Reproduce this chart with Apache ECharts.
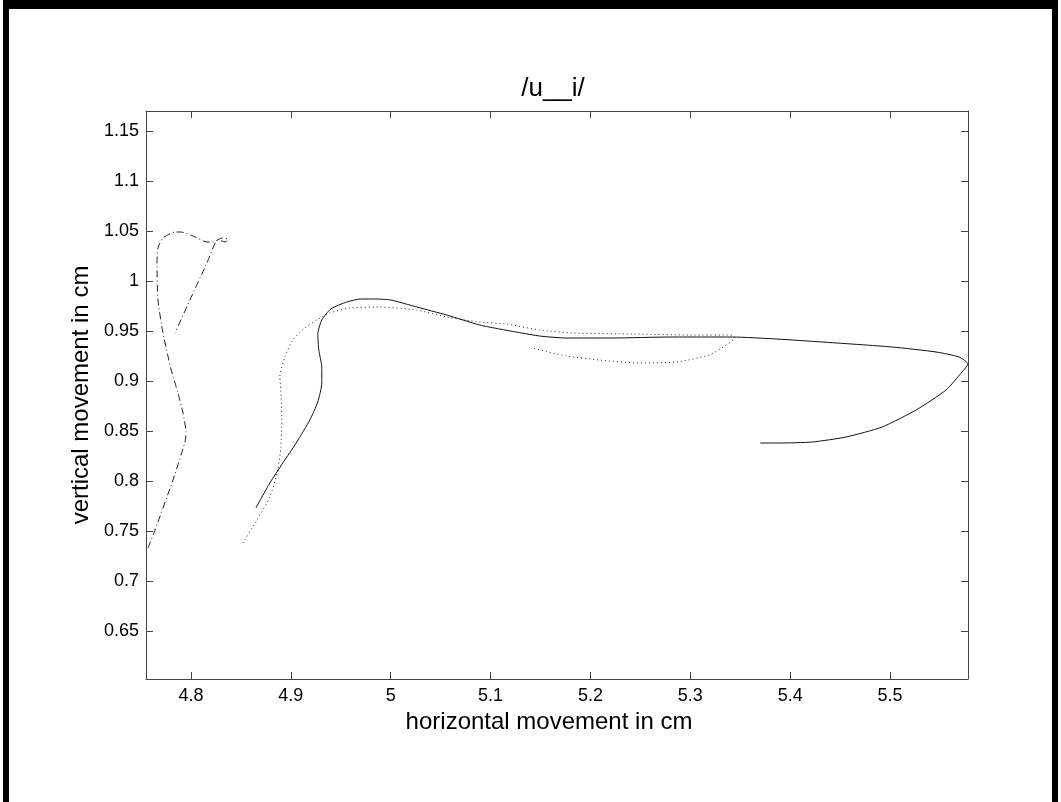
<!DOCTYPE html>
<html>
<head>
<meta charset="utf-8">
<script src="https://cdn.jsdelivr.net/npm/echarts@6/dist/echarts.min.js"></script>
<style>
  html, body { margin: 0; padding: 0; background: #fff; overflow: hidden; }
  #chart { position: absolute; left: 0; top: 0; width: 1061px; height: 802px; }
  /* 外框 */
  .frame {
    position: absolute; left: 3px; top: 0; width: 1043px; height: 820px;
    border-top: 9px solid #000; border-left: 6px solid #000; border-right: 6px solid #000;
    pointer-events: none;
  }
</style>
</head>
<body>
<div id="chart"></div>
<div class="frame"></div>
<script>
// tick labels
const xTicks = [4.8, 4.9, 5, 5.1, 5.2, 5.3, 5.4, 5.5]
const yTicks = [0.65, 0.7, 0.75, 0.8, 0.85, 0.9, 0.95, 1, 1.05, 1.1, 1.15]

// 实线
const solidPath = [
  [4.865, 0.773], [4.879, 0.798], [4.892, 0.818], [4.906, 0.839], [4.919, 0.861],
  [4.927, 0.879], [4.931, 0.898], [4.931, 0.914], [4.928, 0.931], [4.927, 0.947],
  [4.931, 0.961], [4.940, 0.972], [4.956, 0.979], [4.970, 0.982], [4.985, 0.982],
  [5.000, 0.981], [5.026, 0.974], [5.056, 0.966], [5.089, 0.956], [5.109, 0.952],
  [5.149, 0.945], [5.176, 0.943], [5.222, 0.943], [5.280, 0.944], [5.342, 0.944],
  [5.386, 0.942], [5.432, 0.939], [5.502, 0.934], [5.546, 0.929], [5.569, 0.924],
  [5.578, 0.917], [5.572, 0.909], [5.556, 0.891], [5.526, 0.871], [5.492, 0.854],
  [5.456, 0.844], [5.422, 0.839], [5.389, 0.838], [5.370, 0.838]
]

// 点线
const dottedPath = [
  [4.852, 0.738], [4.866, 0.761], [4.879, 0.784], [4.887, 0.811], [4.890, 0.834],
  [4.891, 0.861], [4.890, 0.891], [4.889, 0.904], [4.894, 0.924], [4.902, 0.941],
  [4.914, 0.953], [4.926, 0.961], [4.939, 0.968], [4.959, 0.973], [4.989, 0.974],
  [5.026, 0.971], [5.056, 0.964], [5.089, 0.959], [5.116, 0.957], [5.149, 0.951],
  [5.182, 0.948], [5.242, 0.947], [5.300, 0.946], [5.342, 0.946], [5.344, 0.943],
  [5.336, 0.936], [5.319, 0.926], [5.286, 0.919], [5.249, 0.918], [5.209, 0.921],
  [5.176, 0.925], [5.142, 0.933]
]

// 点划线
const dashDotPath = [
  [4.757, 0.733], [4.764, 0.751], [4.782, 0.801], [4.794, 0.839], [4.795, 0.849],
  [4.792, 0.868], [4.787, 0.888], [4.780, 0.912], [4.772, 0.948], [4.767, 0.981],
  [4.766, 1.018], [4.767, 1.033], [4.772, 1.043], [4.784, 1.049], [4.790, 1.049],
  [4.802, 1.045], [4.816, 1.039], [4.822, 1.039], [4.831, 1.043], [4.837, 1.042],
  [4.835, 1.039], [4.827, 1.041], [4.816, 1.018], [4.799, 0.981], [4.784, 0.948]
]

const myChart = echarts.init(document.getElementById('chart'))

const font = 'Liberation Sans, Arial, sans-serif'
const axisColor = '#444'

const baseAxis = {
  type: 'value',
  axisLine: { show: true, onZero: false, lineStyle: { color: axisColor, width: 1 } },
  splitLine: { show: false },
  axisTick: { show: true, inside: true, length: 7, lineStyle: { color: axisColor } },
  axisLabel: { color: '#000', fontFamily: font, fontSize: 18 }
}

const option = {
  animation: false,
  title: {
    text: '/u__i/',
    left: 548,
    textAlign: 'center',
    top: 71,
    textStyle: { fontFamily: font, fontSize: 26, fontWeight: 'normal', color: '#000' }
  },
  grid: { left: 146, right: 93, top: 111, bottom: 123 },
  xAxis: [
    {
      ...baseAxis,
      position: 'bottom',
      min: 4.755,
      max: 5.578,
      name: 'horizontal movement in cm',
      nameLocation: 'middle',
      nameGap: 25,
      nameTextStyle: { fontFamily: font, fontSize: 24, color: '#000', padding: [0, 16, 0, 0] },
      axisTick: { ...baseAxis.axisTick, customValues: xTicks },
      axisLabel: { ...baseAxis.axisLabel, margin: 8, customValues: xTicks }
    },
    {
      ...baseAxis,
      position: 'top',
      min: 4.755,
      max: 5.578,
      axisTick: { ...baseAxis.axisTick, customValues: xTicks },
      axisLabel: { show: false }
    }
  ],
  yAxis: [
    {
      ...baseAxis,
      position: 'left',
      min: 0.602,
      max: 1.17,
      name: 'vertical movement in cm',
      nameLocation: 'middle',
      nameGap: 43,
      nameTextStyle: { fontFamily: font, fontSize: 24, color: '#000' },
      axisTick: { ...baseAxis.axisTick, customValues: yTicks },
      axisLabel: { ...baseAxis.axisLabel, margin: 7, customValues: yTicks }
    },
    {
      ...baseAxis,
      position: 'right',
      min: 0.602,
      max: 1.17,
      axisTick: { ...baseAxis.axisTick, customValues: yTicks },
      axisLabel: { show: false }
    }
  ],
  series: [
    {
      name: 'solid',
      type: 'line',
      data: solidPath,
      smooth: 0.2,
      showSymbol: false,
      lineStyle: { color: '#111', width: 1 }
    },
    {
      name: 'dotted',
      type: 'line',
      data: dottedPath,
      smooth: 0.2,
      showSymbol: false,
      lineStyle: { color: '#222', width: 1, type: [1, 3] }
    },
    {
      name: 'dashdot',
      type: 'line',
      data: dashDotPath,
      smooth: 0.2,
      showSymbol: false,
      lineStyle: { color: '#222', width: 1, type: [7, 3, 1, 3] }
    }
  ]
}
myChart.setOption(option)
</script>
</body>
</html>
